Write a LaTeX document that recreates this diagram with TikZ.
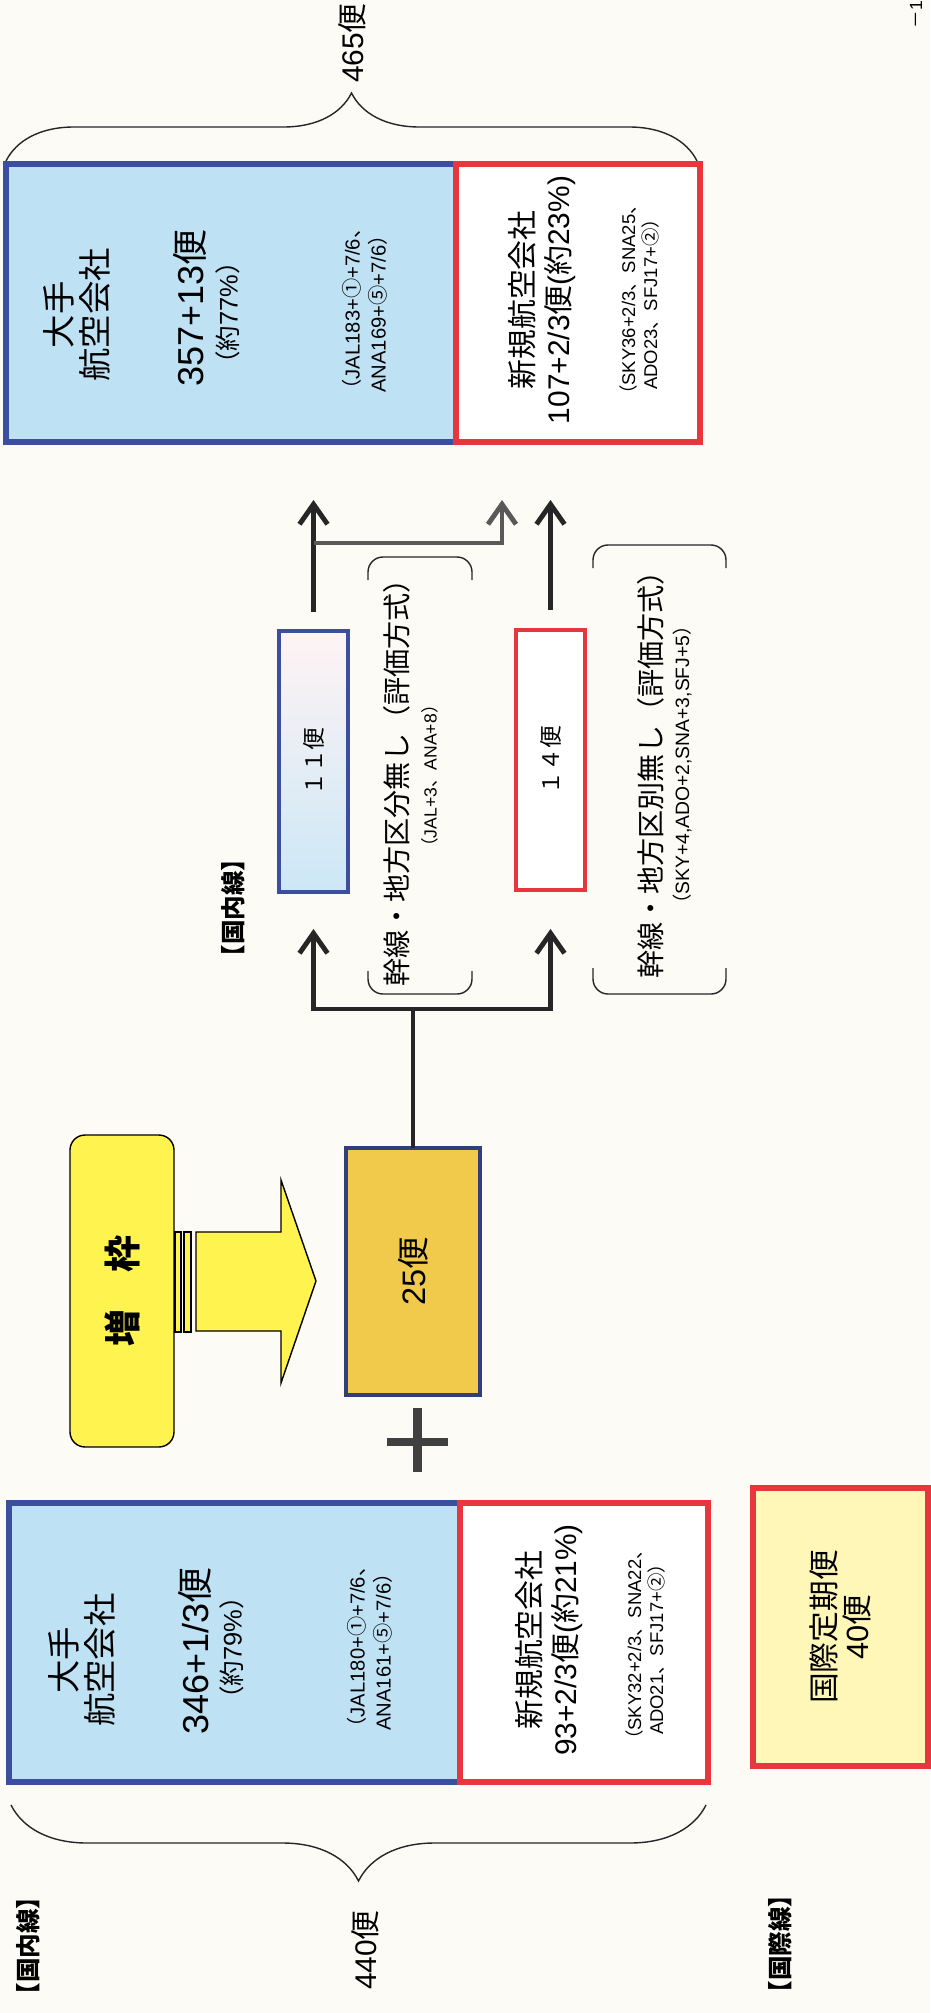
\documentclass[tikz,border=0pt]{standalone}
\usepackage{fontspec}
\setmainfont{Liberation Sans}
\newfontfamily\latfont{Liberation Sans}
\newfontfamily\jpfont{Noto Sans CJK JP}
\usetikzlibrary{arrows.meta,decorations.pathreplacing}

% Japanese characters switch to the CJK face by themselves
\XeTeXinterchartokenstate=1
\newXeTeXintercharclass\jpclass
\newcount\jpcode
\jpcode="3000
\loop\ifnum\jpcode<"A000 \XeTeXcharclass\jpcode=\jpclass \advance\jpcode by 1 \repeat
\jpcode="FF00
\loop\ifnum\jpcode<"FFF0 \XeTeXcharclass\jpcode=\jpclass \advance\jpcode by 1 \repeat
\jpcode="2460
\loop\ifnum\jpcode<"2500 \XeTeXcharclass\jpcode=\jpclass \advance\jpcode by 1 \repeat
\XeTeXinterchartoks 0 \jpclass = {\jpfont}
\XeTeXinterchartoks 4095 \jpclass = {\jpfont}
\XeTeXinterchartoks \jpclass 0 = {\latfont}
\XeTeXinterchartoks 4095 0 = {\latfont}

\definecolor{paper}{HTML}{FCFBF6}
\definecolor{navyline}{HTML}{3C4E9E}
\definecolor{redline}{HTML}{E8363F}
\definecolor{skyfill}{HTML}{BFE1F4}
\definecolor{goldfill}{HTML}{F1C94B}
\definecolor{lemon}{HTML}{FFF34F}
\definecolor{cream}{HTML}{FFF7B8}
\definecolor{ink}{HTML}{262626}

\begin{document}
\begin{tikzpicture}[x=0.02cm, y=-0.02cm,
	every node/.style={inner sep=0pt, outer sep=0pt},
	rot/.style={rotate=90, align=center},
	bigblue/.style={draw=navyline, line width=3pt, fill=skyfill},
	bignew/.style={draw=redline, line width=3pt, fill=white},
	flow/.style={draw=ink, line width=2.8pt, -{Straight Barb[length=4mm, width=5.6mm]}},
	paren/.style={draw=ink, line width=0.8pt, rounded corners=0.3cm},
	curly/.style={draw=ink, line width=0.8pt, decorate},
	plusbar/.style={draw=black!75, line width=5pt}]
	\fill[paper] (0,0) rectangle (930,2013);
	\useasboundingbox (0,0) rectangle (930,2013);

	% after: 465
	\node[rot, font=\fontsize{17}{20}\selectfont] (sumTop) at (352,43) {465便};
	\draw[curly, decoration={brace, amplitude=1.36cm}] (6,161) -- (697,161);
	\node[bigblue, minimum width=9cm, minimum height=5.56cm] (bigA) at (231,303) {};
	\node[bignew, minimum width=4.88cm, minimum height=5.56cm] (newA) at (578,303) {};
	\node[rot, font=\fontsize{19}{20.5}\selectfont] (aName) at (77,315) {大手\\航空会社};
	\node[rot, font=\fontsize{20.5}{24}\selectfont] (aCount) at (190,308) {357+13便};
	\node[rot, font=\fontsize{14.5}{16}\selectfont] (aShare) at (228,313) {（約77\%）};
	\node[rot, font=\fontsize{11.5}{14.8}\selectfont] (aDetail) at (365,309) {（JAL183+①+7/6、\\ANA169+⑤+7/6）};
	\node[rot, font=\fontsize{17}{21}\selectfont] (nAName) at (542,300) {新規航空会社\\107+2/3便(約23\%)};
	\node[rot, font=\fontsize{10.5}{12.5}\selectfont] (nADetail) at (639,300) {（SKY36+2/3、SNA25、\\ADO23、SFJ17+②）};

	% the two slots
	\node[bignew, draw=navyline, line width=2.6pt, top color=pink!18!white, bottom color=skyfill!80!white, minimum width=1.38cm, minimum height=5.22cm] (n11) at (313.5,761.5) {};
	\node[bignew, line width=2.6pt, minimum width=1.38cm, minimum height=5.2cm] (n14) at (550.5,760) {};
	\node[rot, font=\fontsize{13}{16}\selectfont] (t11) at (n11) {１１便};
	\node[rot, font=\fontsize{13}{16}\selectfont] (t14) at (n14) {１４便};
	\node[rot, font=\fontsize{16}{18}\selectfont] (rule11) at (397,776) {幹線・地方区分無し（評価方式）};
	\node[rot, font=\fontsize{10}{12}\selectfont] (who11) at (430,776) {（JAL+3、ANA+8）};
	\node[rot, font=\fontsize{16}{18}\selectfont] (rule14) at (651,768) {幹線・地方区別無し（評価方式）};
	\node[rot, font=\fontsize{11}{12}\selectfont] (who14) at (682,765) {（SKY+4,ADO+2,SNA+3,SFJ+5）};
	\draw[paren] (368,580) -- (368,557) -- (472,557) -- (472,580);
	\draw[paren] (368,971) -- (368,994) -- (472,994) -- (472,971);
	\draw[paren] (593,568) -- (593,545) -- (726,545) -- (726,568);
	\draw[paren] (593,968) -- (593,994) -- (726,994) -- (726,968);
	\node[rot, font=\bfseries\fontsize{14}{16}\selectfont] (domMid) at (233,908) {【国内線】};

	% increase
	\node[draw=black, line width=0.8pt, fill=lemon, rounded corners=0.3cm, minimum width=2.08cm, minimum height=6.24cm] (zouwaku) at (122,1291) {};
	\node[rot, font=\bfseries\fontsize{21}{24}\selectfont] (tz) at (zouwaku) {増　枠};
	\draw[black, line width=0.8pt, fill=lemon] (175,1232) rectangle (181,1332);
	\draw[black, line width=0.8pt, fill=lemon] (184,1232) rectangle (191,1332);
	\draw[black, line width=0.8pt, fill=lemon] (196,1232) -- (281,1232) -- (281,1180) -- (316,1281)
		-- (281,1383) -- (281,1331) -- (196,1331) -- cycle;
	\node[draw=navyline!80!black, line width=2pt, fill=goldfill, minimum width=2.68cm, minimum height=4.94cm] (b25) at (413,1271.5) {};
	\node[rot, font=\fontsize{18.5}{20}\selectfont] (t25) at (b25) {25便};
	\draw[plusbar] (417.5,1408) -- (417.5,1472);
	\draw[plusbar] (387,1442) -- (448,1442);

	% connectors
	\coordinate (fork) at (413,1009);
	\coordinate (split) at (313.5,543);
	\coordinate (tipB) at (502,500);
	\draw[draw=ink, line width=2.8pt] (b25.north) -- (fork);
	\draw[flow, shorten >=0.74cm] (fork) -| (n11.south);
	\draw[flow, shorten >=0.78cm] (fork) -| (n14.south);
	\draw[flow, shorten <=0.38cm, shorten >=1.16cm] (n11.north) -- (n11.north |- bigA.south);
	\draw[flow, draw=black!65] (split) -| (tipB);
	\draw[flow, shorten <=0.4cm, shorten >=1.16cm] (n14.north) -- (n14.north |- newA.south);

	% before: 440
	\node[bigblue, minimum width=9.02cm, minimum height=5.58cm] (bigB) at (234.5,1642.5) {};
	\node[bignew, minimum width=4.96cm, minimum height=5.58cm] (newB) at (584,1642.5) {};
	\node[rot, font=\fontsize{19}{20.5}\selectfont] (bName) at (82,1660) {大手\\航空会社};
	\node[rot, font=\fontsize{20.5}{24}\selectfont] (bCount) at (195,1651) {346+1/3便};
	\node[rot, font=\fontsize{14.5}{16}\selectfont] (bShare) at (232,1648) {（約79\%）};
	\node[rot, font=\fontsize{11.5}{14.8}\selectfont] (bDetail) at (370,1647) {（JAL180+①+7/6、\\ANA161+⑤+7/6）};
	\node[rot, font=\fontsize{17}{21}\selectfont] (nBName) at (549,1640) {新規航空会社\\93+2/3便(約21\%)};
	\node[rot, font=\fontsize{10.5}{12.5}\selectfont] (nBDetail) at (645,1645) {（SKY32+2/3、SNA22、\\ADO21、SFJ17+②）};
	\draw[curly, decoration={brace, amplitude=1.52cm}] (706,1805) -- (11,1805);
	\node[rot, font=\fontsize{17}{20}\selectfont] (sumLow) at (365,1950) {440便};
	\node[rot, font=\bfseries\fontsize{14}{16}\selectfont] (domLow) at (28,1946) {【国内線】};

	% international
	\node[draw=redline, line width=3pt, fill=cream, minimum width=3.5cm, minimum height=5.56cm] (intl) at (840.5,1627) {};
	\node[rot, font=\fontsize{17.5}{19}\selectfont] (tintl) at (intl) {国際定期便\\40便};
	\node[rot, font=\bfseries\fontsize{14}{16}\selectfont] (intlLab) at (780,1944) {【国際線】};

	\node[rot, anchor=east, font=\fontsize{10}{12}\selectfont] (page) at (916,1) {－1};
\end{tikzpicture}
\end{document}
